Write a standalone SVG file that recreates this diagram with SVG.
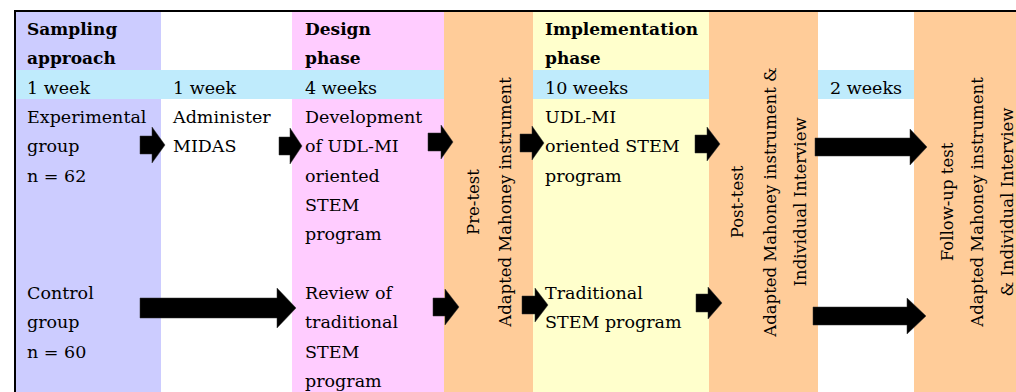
<svg xmlns="http://www.w3.org/2000/svg" width="1016" height="392" viewBox="0 0 1016 392">
<style>
.t{font-family:"DejaVu Serif","Liberation Serif",serif;font-size:17.5px;fill:#000}
.b{font-weight:bold;font-size:17px}
.r{font-family:"DejaVu Serif","Liberation Serif",serif;font-size:16.5px;fill:#000;text-anchor:middle}
.lav{fill:#CCCCFF}.pink{fill:#FFCCFF}.org{fill:#FFCC99}.yel{fill:#FFFFCC}.blue{fill:#BFEBFC}.wht{fill:#FFFFFF}
.arr{fill:#000;stroke:#333;stroke-width:0.5}
</style>
<rect x="0" y="0" width="1016" height="392" fill="#fff"/>
<g id="col-sampling">
<rect class="lav" x="16" y="12" width="145" height="380"/>
<rect class="blue" x="16" y="70" width="145" height="29"/>
<text class="t b" x="27" y="35">Sampling</text>
<text class="t b" x="27" y="64.3">approach</text>
<text class="t" x="27" y="93.7">1 week</text>
<text class="t" x="27" y="123">Experimental</text>
<text class="t" x="27" y="152.3">group</text>
<text class="t" x="27" y="181.7">n = 62</text>
<text class="t" x="27" y="299">Control</text>
<text class="t" x="27" y="328.3">group</text>
<text class="t" x="27" y="357.7">n = 60</text>
</g>
<g id="col-midas">
<rect class="blue" x="161" y="70" width="131" height="29"/>
<text class="t" x="173" y="93.7">1 week</text>
<text class="t" x="173" y="123">Administer</text>
<text class="t" x="173" y="152.3">MIDAS</text>
</g>
<g id="col-design">
<rect class="pink" x="292" y="12" width="152" height="380"/>
<rect class="blue" x="292" y="70" width="152" height="29"/>
<text class="t b" x="305" y="35">Design</text>
<text class="t b" x="305" y="64.3">phase</text>
<text class="t" x="305" y="93.7">4 weeks</text>
<text class="t" x="305" y="123">Development</text>
<text class="t" x="305" y="152.3">of UDL-MI</text>
<text class="t" x="305" y="181.7">oriented</text>
<text class="t" x="305" y="211">STEM</text>
<text class="t" x="305" y="240.3">program</text>
<text class="t" x="305" y="299">Review of</text>
<text class="t" x="305" y="328.3">traditional</text>
<text class="t" x="305" y="357.7">STEM</text>
<text class="t" x="305" y="387">program</text>
</g>
<g id="col-pretest">
<rect class="org" x="444" y="12" width="89" height="380"/>
<text class="r" transform="translate(479,202) rotate(-90)">Pre-test</text>
<text class="r" transform="translate(511,202) rotate(-90)">Adapted Mahoney instrument</text>
</g>
<g id="col-implementation">
<rect class="yel" x="533" y="12" width="176" height="380"/>
<rect class="blue" x="533" y="70" width="176" height="29"/>
<text class="t b" x="545" y="35">Implementation</text>
<text class="t b" x="545" y="64.3">phase</text>
<text class="t" x="545" y="93.7">10 weeks</text>
<text class="t" x="545" y="123">UDL-MI</text>
<text class="t" x="545" y="152.3">oriented STEM</text>
<text class="t" x="545" y="181.7">program</text>
<text class="t" x="545" y="299">Traditional</text>
<text class="t" x="545" y="328.3">STEM program</text>
</g>
<g id="col-posttest">
<rect class="org" x="709" y="12" width="109" height="380"/>
<text class="r" transform="translate(743,202) rotate(-90)">Post-test</text>
<text class="r" transform="translate(776,202) rotate(-90)">Adapted Mahoney instrument &amp;</text>
<text class="r" transform="translate(806,202) rotate(-90)">Individual Interview</text>
</g>
<g id="col-gap">
<rect class="blue" x="818" y="70" width="96" height="29"/>
<text class="t" x="830" y="93.7">2 weeks</text>
</g>
<g id="col-followup">
<rect class="org" x="914" y="12" width="102" height="380"/>
<text class="r" transform="translate(953,202) rotate(-90)">Follow-up test</text>
<text class="r" transform="translate(983,202) rotate(-90)">Adapted Mahoney instrument</text>
<text class="r" transform="translate(1013,202) rotate(-90)">&amp; Individual Interview</text>
</g>
<g id="frame">
<path d="M15 392 V11 H1016" fill="none" stroke="#000" stroke-width="2"/>
</g>
<g id="connectors">
<path class="arr" d="M140 136 H152 V127 L165 145 L152 163 V154 H140 Z"/>
<path class="arr" d="M279 137 H290 V128 L302 146 L290 164 V155 H279 Z"/>
<path class="arr" d="M428 133 H441 V125 L453 142 L441 159 V151 H428 Z"/>
<path class="arr" d="M520 134 H532 V126 L544 143 L532 160 V152 H520 Z"/>
<path class="arr" d="M695 135 H707 V127 L720 144 L707 161 V153 H695 Z"/>
<path class="arr" d="M815 138 H910 V129 L927 147 L910 165 V156 H815 Z"/>
<path class="arr" d="M140 298 H277 V288 L296 308 L277 328 V318 H140 Z"/>
<path class="arr" d="M433 298 H445 V289 L459 307 L445 325 V316 H433 Z"/>
<path class="arr" d="M522 296 H535 V288 L548 305 L535 322 V314 H522 Z"/>
<path class="arr" d="M696 294 H708 V287 L722 303 L708 319 V312 H696 Z"/>
<path class="arr" d="M813 307 H907 V298 L926 316 L907 334 V325 H813 Z"/>
</g>
</svg>
